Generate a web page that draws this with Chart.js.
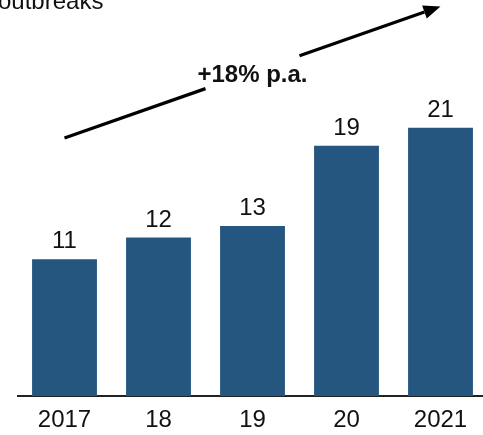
<!DOCTYPE html>
<html>
<head>
<meta charset="utf-8">
<script src="https://cdn.jsdelivr.net/npm/chart.js@4/dist/chart.umd.min.js"></script>
<style>
  html, body { margin: 0; padding: 0; background: #fff; overflow: hidden; }
  #wrap { position: absolute; left: 0; top: 0; width: 490px; height: 435px; }
</style>
</head>
<body>
<div id="wrap"><canvas id="c" width="490" height="435"></canvas></div>
<script>
// ---- data ----
const categories = ['2017', '18', '19', '20', '2021'];
const outbreaks = [10.7, 12.4, 13.3, 19.6, 21.0];
const valueLabels = ['11', '12', '13', '19', '21'];
const subtitleTail = 'outbreaks';
const growthLabel = '+18% p.a.';
// arrow in data space: [categoryIndex, value]
const arrowStart = [0, 20.2];
const arrowEnd = [4, 30.5];
const arrowGap = [1.5, 2.5];
const growthAnchor = [2, 24.6];

const FONT = '"Liberation Sans", Arial, Helvetica, sans-serif';

const overlay = {
  id: 'overlay',
  afterDatasetsDraw(chart) {
    const ctx = chart.ctx;
    const xs = chart.scales.x, ys = chart.scales.y;
    const meta = chart.getDatasetMeta(0);
    ctx.save();
    // value labels
    ctx.fillStyle = '#111';
    ctx.font = '24px ' + FONT;
    ctx.textAlign = 'center';
    ctx.textBaseline = 'alphabetic';
    meta.data.forEach((bar, i) => {
      ctx.fillText(valueLabels[i], bar.x, bar.y - 11);
    });
    // subtitle tail (cut off at top)
    ctx.textAlign = 'left';
    ctx.fillText(subtitleTail, -2, 9);
    // growth arrow
    const px = (p) => [xs.getPixelForValue(p[0]), ys.getPixelForValue(p[1])];
    const a = px(arrowStart), b = px(arrowEnd);
    const lerp = (t) => [a[0] + (b[0] - a[0]) * t, a[1] + (b[1] - a[1]) * t];
    const span = arrowEnd[0] - arrowStart[0];
    const g1 = lerp((arrowGap[0] - arrowStart[0]) / span);
    const g2 = lerp((arrowGap[1] - arrowStart[0]) / span);
    const ang = Math.atan2(b[1] - a[1], b[0] - a[0]);
    const headLen = 17, headW = 7;
    const base = [b[0] - headLen * Math.cos(ang), b[1] - headLen * Math.sin(ang)];
    ctx.strokeStyle = '#000';
    ctx.lineWidth = 3.2;
    ctx.lineCap = 'butt';
    ctx.beginPath();
    ctx.moveTo(a[0], a[1]); ctx.lineTo(g1[0], g1[1]);
    ctx.moveTo(g2[0], g2[1]); ctx.lineTo(base[0], base[1]);
    ctx.stroke();
    ctx.fillStyle = '#000';
    ctx.beginPath();
    ctx.moveTo(b[0], b[1]);
    ctx.lineTo(base[0] + headW * Math.sin(ang), base[1] - headW * Math.cos(ang));
    ctx.lineTo(base[0] - headW * Math.sin(ang), base[1] + headW * Math.cos(ang));
    ctx.closePath();
    ctx.fill();
    // growth label
    const t = px(growthAnchor);
    ctx.font = 'bold 24px ' + FONT;
    ctx.textAlign = 'center';
    ctx.fillStyle = '#111';
    ctx.fillText(growthLabel, t[0], t[1]);
    ctx.restore();
  }
};

new Chart(document.getElementById('c'), {
  type: 'bar',
  data: {
    labels: categories,
    datasets: [{
      data: outbreaks,
      backgroundColor: '#25567F',
      borderWidth: 0,
      categoryPercentage: 1,
      barPercentage: 0.69
    }]
  },
  options: {
    responsive: false,
    animation: false,
    devicePixelRatio: 1,
    layout: { padding: { left: 17.5, right: 2.5, top: 0, bottom: 0 } },
    plugins: { legend: { display: false }, tooltip: { enabled: false }, title: { display: false } },
    scales: {
      x: {
        offset: true,
        grid: { display: false, drawTicks: false },
        border: { display: true, color: '#222', width: 2 },
        ticks: {
          color: '#111',
          font: { family: FONT, size: 24 },
          padding: 10,
          maxRotation: 0,
          autoSkip: false
        },
        afterFit(scale) { scale.height = 39; }
      },
      y: {
        display: false,
        min: 0,
        max: 31
      }
    }
  },
  plugins: [overlay]
});
</script>
</body>
</html>
